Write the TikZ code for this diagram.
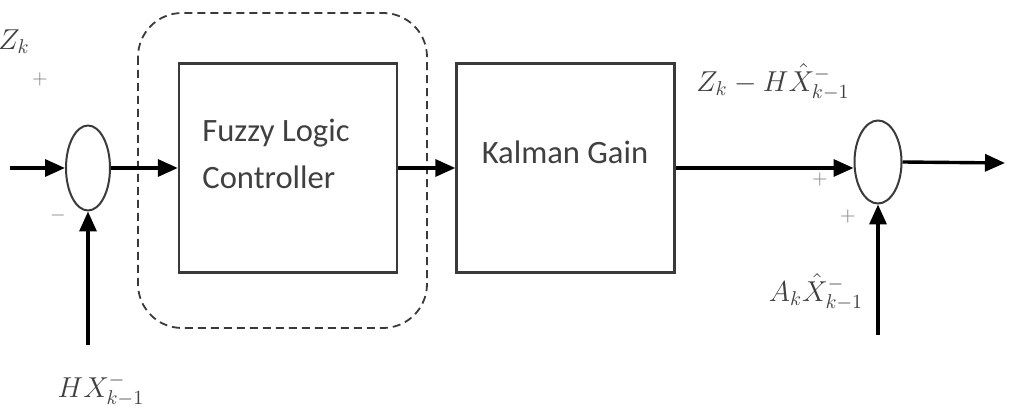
\documentclass[tikz,border=0pt]{standalone}
\usepackage{fontspec}
\setmainfont{Carlito}
\usetikzlibrary{shapes.geometric,arrows.meta}
\definecolor{boxgray}{HTML}{3A3A3A}
\definecolor{txtgray}{HTML}{404040}
\tikzset{
  blockbox/.style={draw=boxgray, line width=1.2pt, minimum width=109pt, minimum height=104.5pt, inner sep=0pt},
  sumnode/.style={draw=boxgray, ellipse, line width=1pt, inner sep=0pt},
  sig/.style={line width=1.7pt, -{Triangle[length=10pt,width=8.5pt]}},
  blocktext/.style={text=txtgray, font=\fontsize{16.3}{23.5}\selectfont, inner sep=0pt},
  mathlabel/.style={text=txtgray, font=\fontsize{14.5}{16}\selectfont, inner sep=0pt},
  signlabel/.style={text=gray, font=\fontsize{10}{12}\selectfont, inner sep=0pt},
  groupbox/.style={draw=boxgray, line width=0.9pt, dash pattern=on 4pt off 2.5pt, rounded corners=22pt}
}
\begin{document}
\begin{tikzpicture}[x=0.5pt,y=-0.5pt]
\useasboundingbox (0,0) rectangle (1018,416);
% dashed group
\draw[groupbox] (138,13) rectangle (427,328);
% blocks
\node[blockbox] (flc) at (288,168) {};
\node[blocktext, align=left] (flct) at (276,154) {Fuzzy Logic\\Controller};
\node[blockbox] (kal) at (565.5,168) {};
\node[blocktext] (kalt) at (565,152) {Kalman Gain};
% summing junctions
\node[sumnode, minimum width=22pt, minimum height=42.5pt] (s1) at (88,168) {};
\node[sumnode, minimum width=23.5pt, minimum height=41.5pt] (s2) at (878,162) {};
% free ends
\coordinate (in) at (10,168);
\coordinate (hin) at (88,345);
\coordinate (ain) at (878,335);
\coordinate (out) at (1005,163);
% connectors
\draw[sig] (in) -- (s1.west);
\draw[sig] (hin) -- (s1.south);
\draw[sig] (s1.east) -- (flc.west);
\draw[sig] (flc.east) -- (kal.west);
\draw[sig] (kal.east) -- (kal.east -| s2.west);
\draw[sig] (ain) -- (s2.south);
\draw[sig] (s2.east) -- (out);
% labels
\node[mathlabel] (zk) at (14,42) {$Z_k$};
\node[signlabel] (p1) at (40,80) {$+$};
\node[signlabel] (m1) at (58,216) {$-$};
\node[mathlabel] (hx) at (101,390) {$HX^{-}_{k-1}$};
\node[mathlabel] (zmh) at (773,82) {$Z_k - H\hat{X}^{-}_{k-1}$};
\node[signlabel] (p2) at (820,180) {$+$};
\node[signlabel] (p3) at (848,217) {$+$};
\node[mathlabel] (ax) at (816,292) {$A_k\hat{X}^{-}_{k-1}$};
\end{tikzpicture}
\end{document}
